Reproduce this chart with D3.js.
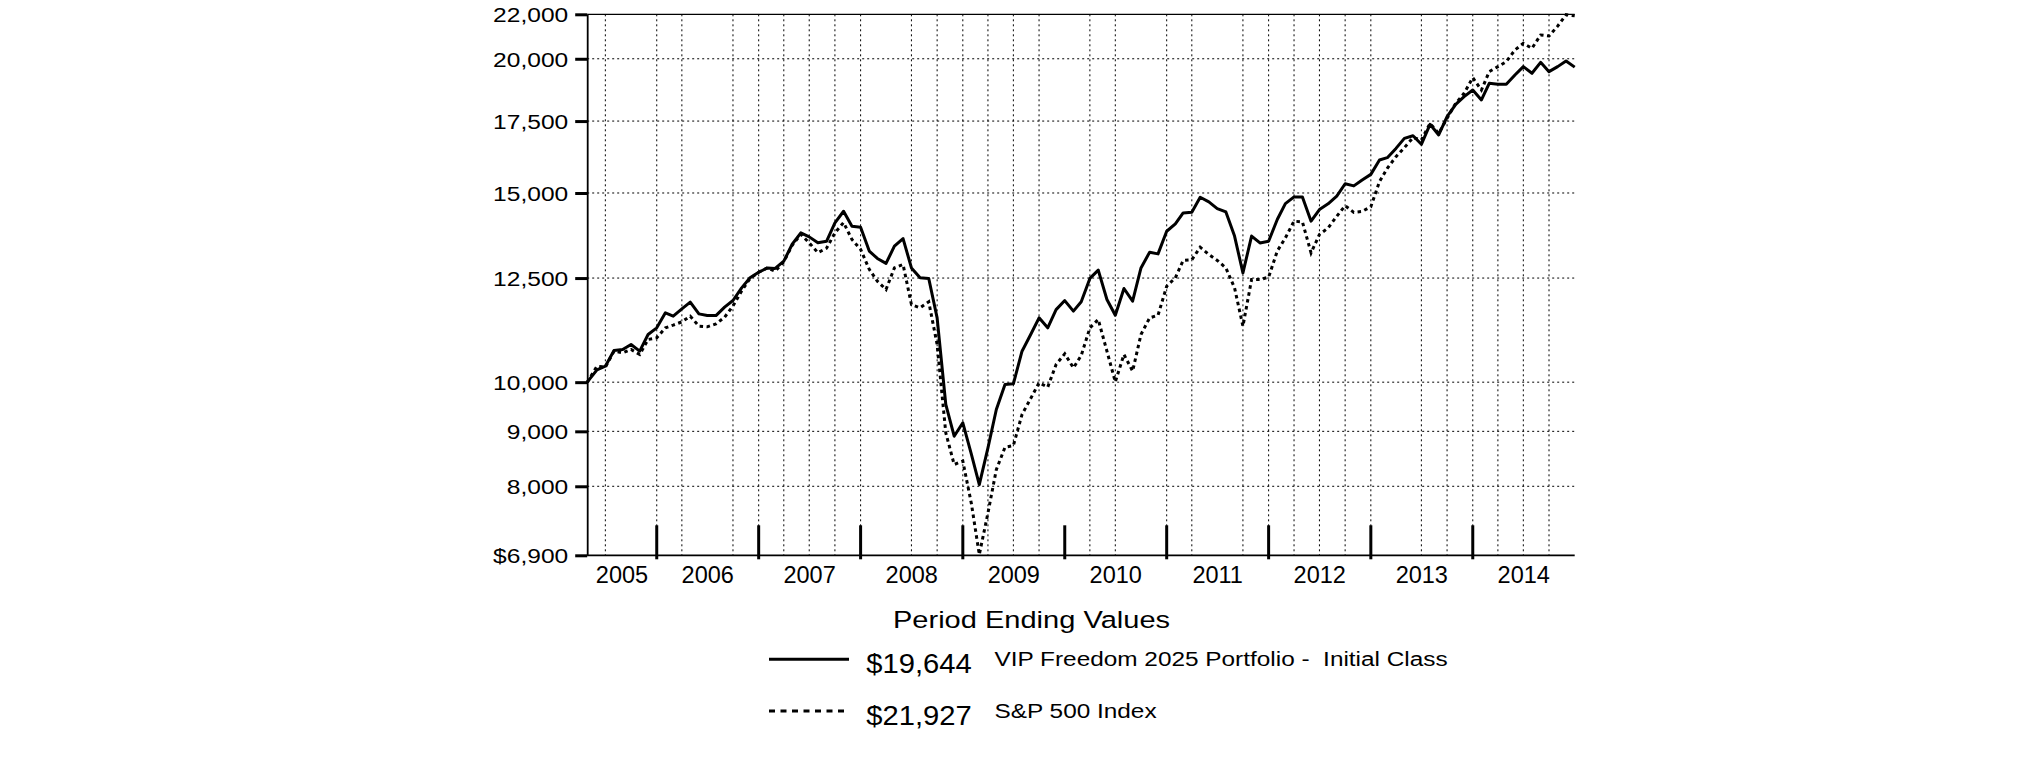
<!DOCTYPE html>
<html><head><meta charset="utf-8">
<script src="https://cdn.jsdelivr.net/npm/d3@7"></script>
<style>
body{margin:0;background:#fff}
svg{display:block;background:#fff}
text{font-family:Arial,"Liberation Sans",sans-serif;fill:#000;white-space:pre}
</style>
</head><body>
<svg id="chart" width="2025" height="761"></svg>
<script>
// ---------- data ----------
const startDate = "2005-04-26";
const months = [
 "2005-05","2005-06","2005-07","2005-08","2005-09","2005-10","2005-11","2005-12",
 "2006-01","2006-02","2006-03","2006-04","2006-05","2006-06","2006-07","2006-08","2006-09","2006-10","2006-11","2006-12",
 "2007-01","2007-02","2007-03","2007-04","2007-05","2007-06","2007-07","2007-08","2007-09","2007-10","2007-11","2007-12",
 "2008-01","2008-02","2008-03","2008-04","2008-05","2008-06","2008-07","2008-08","2008-09","2008-10","2008-11","2008-12",
 "2009-01","2009-02","2009-03","2009-04","2009-05","2009-06","2009-07","2009-08","2009-09","2009-10","2009-11","2009-12",
 "2010-01","2010-02","2010-03","2010-04","2010-05","2010-06","2010-07","2010-08","2010-09","2010-10","2010-11","2010-12",
 "2011-01","2011-02","2011-03","2011-04","2011-05","2011-06","2011-07","2011-08","2011-09","2011-10","2011-11","2011-12",
 "2012-01","2012-02","2012-03","2012-04","2012-05","2012-06","2012-07","2012-08","2012-09","2012-10","2012-11","2012-12",
 "2013-01","2013-02","2013-03","2013-04","2013-05","2013-06","2013-07","2013-08","2013-09","2013-10","2013-11","2013-12",
 "2014-01","2014-02","2014-03","2014-04","2014-05","2014-06","2014-07","2014-08","2014-09","2014-10","2014-11","2014-12"
];
const fundValues = [
 10000,10268,10349,10703,10725,10841,10687,11075,11235,
 11603,11520,11700,11870,11576,11534,11534,11744,11913,12240,12506,12656,
 12775,12760,12960,13440,13772,13654,13480,13525,14071,14425,13970,13940,
 13245,13036,12899,13383,13605,12775,12506,12488,11479,9533,8906,9166,
 8560,8029,8686,9431,9950,9964,10686,11075,11478,11235,11683,11911,
 11644,11879,12490,12715,11939,11542,12223,11896,12775,13213,13165,13819,
 14039,14374,14395,14864,14717,14508,14402,13677,12639,13677,13478,13525,
 14170,14663,14874,14874,14121,14477,14655,14900,15300,15230,15426,15611,
 16099,16180,16504,16862,16960,16650,17379,16987,17665,18138,18439,18704,
 18309,18975,18936,18936,19317,19666,19387,19847,19455,19666,19904,19644
];
const indexValues = [
 10000,10349,10327,10687,10649,10725,10611,10958,10997,
 11235,11300,11381,11520,11275,11260,11330,11495,11774,12160,12488,12656,
 12775,12686,12941,13411,13727,13480,13199,13325,13772,14079,13578,13292,
 12735,12416,12197,12775,12868,11811,11727,11879,10841,8971,8382,8444,
 7700,6910,7555,8291,8698,8730,9331,9656,9986,9893,10386,10626,
 10312,10588,11235,11437,10687,10007,10611,10239,11077,11478,11542,12283,
 12506,12982,12999,13356,13148,12982,12775,12240,11275,12462,12462,12523,
 13245,13625,14121,14099,13193,13724,13919,14270,14597,14390,14420,14565,
 15370,15816,16213,16529,16889,16804,17415,17045,17604,18177,18573,19206,
 18704,19455,19666,19877,20380,20671,20452,21045,21000,21450,21980,21927
];
const yTickValues = [6900,8000,9000,10000,12500,15000,17500,20000,22000];
const yTickLabels = ["$6,900","8,000","9,000","10,000","12,500","15,000","17,500","20,000","22,000"];
const yGridValues = [8000,9000,10000,12500,15000,17500,20000];
const gridMonths = ["2005-06","2005-12","2006-03","2006-09","2006-12","2007-03","2007-06","2007-09","2007-12",
 "2008-06","2008-09","2008-12","2009-03","2009-06","2009-09","2010-03","2010-06","2010-12","2011-03",
 "2011-09","2011-12","2012-03","2012-06","2012-09","2012-12","2013-06","2013-09","2013-12","2014-03","2014-06","2014-09"];
const yearEnds = ["2005-12","2006-12","2007-12","2008-12","2009-12","2010-12","2011-12","2012-12","2013-12"];
const yearLabels = ["2005","2006","2007","2008","2009","2010","2011","2012","2013","2014"];
const legendTitle = "Period Ending Values";
const seriesNames = ["VIP Freedom 2025 Portfolio -  Initial Class","S&P 500 Index"];
const endLabels = ["$19,644","$21,927"];

// ---------- helpers ----------
const pm = d3.timeParse("%Y-%m");
const pd = d3.timeParse("%Y-%m-%d");
const monthEnd = s => d3.timeDay.offset(d3.timeMonth.offset(pm(s),1),-1);
const dates = [pd(startDate), ...months.map(monthEnd)];

const svg = d3.select("#chart");
const L = 587.2, R = 1574.7, T = 14.3, B = 555.3;

const x = d3.scaleTime().domain([dates[0], monthEnd("2014-12")]).range([L, R]);
const y = d3.scaleLog().domain([6900, 22000]).range([B, T]);

// gridlines
const grid = svg.append("g");
grid.selectAll("line.v").data(gridMonths.map(monthEnd)).join("line")
  .attr("x1", d => x(d)).attr("x2", d => x(d)).attr("y1", T).attr("y2", B)
  .attr("stroke", "#000").attr("stroke-width", 1).attr("stroke-dasharray", "2,3");
grid.selectAll("line.h").data(yGridValues).join("line")
  .attr("x1", L).attr("x2", R).attr("y1", d => y(d)).attr("y2", d => y(d))
  .attr("stroke", "#000").attr("stroke-width", 1).attr("stroke-dasharray", "2,3");

// top border
svg.append("line").attr("x1", L).attr("x2", R).attr("y1", y(22000)).attr("y2", y(22000))
  .attr("stroke", "#000").attr("stroke-width", 1.3);

// y axis
const yAxis = d3.axisLeft(y).tickValues(yTickValues).tickFormat((d,i) => yTickLabels[i])
  .tickSizeInner(12).tickSizeOuter(0);
const gy = svg.append("g").attr("transform", `translate(${L},0)`).call(yAxis);
gy.select(".domain").attr("stroke-width", 1.8);
gy.selectAll(".tick line").attr("stroke-width", 3);
gy.selectAll(".tick text")
  .attr("x", null).attr("dy", null)
  .attr("font-size", 21).attr("font-family", "Arial, 'Liberation Sans', sans-serif")
  .attr("dominant-baseline", "central")
  .attr("transform", "translate(-19,0) scale(1.17,1)");

// bottom axis line
svg.append("line").attr("x1", L).attr("x2", R).attr("y1", B).attr("y2", B)
  .attr("stroke", "#000").attr("stroke-width", 1.8);

// year ticks
svg.append("g").selectAll("line").data(yearEnds.map(monthEnd)).join("line")
  .attr("x1", d => x(d)).attr("x2", d => x(d)).attr("y1", B - 30).attr("y2", B + 4)
  .attr("stroke", "#000").attr("stroke-width", 3);

// year labels
const bounds = [x.domain()[0], ...yearEnds.map(monthEnd), x.domain()[1]];
svg.append("g").selectAll("text").data(yearLabels).join("text")
  .attr("x", (d,i) => (x(bounds[i]) + x(bounds[i+1])) / 2)
  .attr("y", 582.7).attr("text-anchor", "middle").attr("font-size", 23.5)
  .text(d => d);

// series
const line = d3.line().x(d => x(d.date)).y(d => y(d.v));
const idxData = dates.map((d,i) => ({date: d, v: indexValues[i]}));
const fundData = dates.map((d,i) => ({date: d, v: fundValues[i]}));
svg.append("path").datum(idxData).attr("d", line).attr("fill", "none")
  .attr("stroke", "#000").attr("stroke-width", 3).attr("stroke-dasharray", "3.5,3.5");
svg.append("path").datum(fundData).attr("d", line).attr("fill", "none")
  .attr("stroke", "#000").attr("stroke-width", 3).attr("stroke-linejoin", "round");

// legend
svg.append("text").attr("transform", "translate(1031.5,628.3) scale(1.32,1.06)")
  .attr("text-anchor", "middle").attr("font-size", 22).text(legendTitle);

const legY = [659.3, 711];
const dashes = [null, "6,5.5"];
legY.forEach((ly, i) => {
  svg.append("line").attr("x1", 769).attr("x2", 849).attr("y1", ly).attr("y2", ly)
    .attr("stroke", "#000").attr("stroke-width", 3)
    .attr("stroke-dasharray", dashes[i]);
  svg.append("text").attr("transform", `translate(866.3,${ly + 14}) scale(1.14,1.06)`)
    .attr("font-size", 25.6).text(endLabels[i]);
  svg.append("text").attr("transform", `translate(994.5,${ly + 6.7}) scale(1.31,1.05)`)
    .attr("font-size", 18.6).text(seriesNames[i]);
});
</script>
</body></html>
